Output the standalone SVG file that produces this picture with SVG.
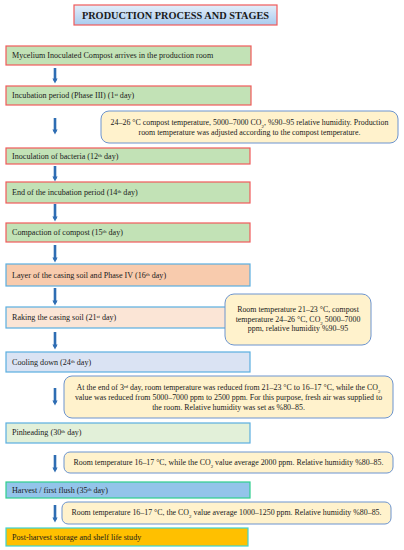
<svg xmlns="http://www.w3.org/2000/svg" width="404" height="550" viewBox="0 0 404 550">
<defs>
<linearGradient id="tg" x1="0" y1="0" x2="0" y2="1">
<stop offset="0" stop-color="#e3eefa"/>
<stop offset="1" stop-color="#a9cbee"/>
</linearGradient>
<marker id="ah" viewBox="0 0 6 6" refX="3" refY="3" markerWidth="2" markerHeight="2" orient="auto" markerUnits="strokeWidth">
<path d="M0,0 L6,3 L0,6 z" fill="#2e6db3"/>
</marker>
</defs>
<style>
text{font-family:"Liberation Serif","Times New Roman",serif;fill:#1a1a1a}
.t{font-size:8.1px}
.n{font-size:7.9px;text-anchor:middle}
.sup{font-size:5px}
.sub{font-size:5px}
.title{font-size:10.3px;font-weight:bold;text-anchor:middle}
.red{stroke:#f05a5a;stroke-width:1.2}
.blu{stroke:#5aaee0;stroke-width:1.2}
.g{fill:#c2e2b6}
.note{fill:#fff2cc;stroke:#6c94cf;stroke-width:1}
.arr{stroke:#2e6db3;stroke-width:2.6;fill:none}
</style>
<rect width="404" height="550" fill="#ffffff"/>
<g id="title">
<rect x="74" y="5" width="203" height="20" fill="url(#tg)" class="red"/>
<text x="175.5" y="19" class="title">PRODUCTION PROCESS AND STAGES</text>
</g>
<g id="n1">
<rect x="6" y="46" width="245" height="19" class="g red"/>
<text x="12" y="58" class="t">Mycelium Inoculated Compost arrives in the production room</text>
</g>
<g id="n2">
<rect x="6" y="86" width="245" height="19" class="g red"/>
<text x="12" y="98" class="t">Incubation period (Phase III) (1<tspan class="sup" baseline-shift="super">st</tspan> day)</text>
</g>
<g id="note1">
<rect x="101" y="111" width="297" height="32" rx="8" class="note"/>
<text x="249.5" y="124.5" class="n">24–26 °C compost temperature, 5000–7000 CO<tspan class="sub" baseline-shift="sub">2</tspan>, %90–95 relative humidity. Production</text>
<text x="249.5" y="134.5" class="n">room temperature was adjusted according to the compost temperature.</text>
</g>
<g id="n3">
<rect x="6" y="148" width="244" height="16" class="g red"/>
<text x="12" y="158.5" class="t">Inoculation of bacteria (12<tspan class="sup" baseline-shift="super">th</tspan> day)</text>
</g>
<g id="n4">
<rect x="6" y="182" width="244" height="21" class="g red"/>
<text x="12" y="195" class="t">End of the incubation period (14<tspan class="sup" baseline-shift="super">th</tspan> day)</text>
</g>
<g id="n5">
<rect x="6" y="223" width="244" height="19" class="g red"/>
<text x="12" y="235" class="t">Compaction of compost (15<tspan class="sup" baseline-shift="super">th</tspan> day)</text>
</g>
<g id="n6">
<rect x="6" y="264" width="244" height="22" fill="#f8cbad" class="blu"/>
<text x="12" y="277.5" class="t">Layer of the casing soil and Phase IV (16<tspan class="sup" baseline-shift="super">th</tspan> day)</text>
</g>
<g id="n7">
<rect x="6" y="307" width="244" height="21" fill="#fbe5d6" class="blu"/>
<text x="12" y="320" class="t">Raking the casing soil (21<tspan class="sup" baseline-shift="super">st</tspan> day)</text>
</g>
<g id="note2">
<rect x="225" y="294" width="146" height="51" rx="9" class="note"/>
<text x="298" y="312" class="n">Room temperature 21–23 °C, compost</text>
<text x="298" y="321.5" class="n">temperature 24–26 °C, CO<tspan class="sub" baseline-shift="sub">2</tspan> 5000–7000</text>
<text x="298" y="331" class="n">ppm, relative humidity %90–95</text>
</g>
<g id="n8">
<rect x="6" y="352" width="244" height="20" fill="#dae3f3" class="blu"/>
<text x="12" y="364.5" class="t">Cooling down (24<tspan class="sup" baseline-shift="super">th</tspan> day)</text>
</g>
<g id="note3">
<rect x="64" y="376" width="329" height="42" rx="8" class="note"/>
<text x="228.5" y="390" class="n">At the end of 3<tspan class="sup" baseline-shift="super">rd</tspan> day, room temperature was reduced from 21–23 °C to 16–17 °C, while the CO<tspan class="sub" baseline-shift="sub">2</tspan></text>
<text x="228.5" y="400" class="n">value was reduced from 5000–7000 ppm to 2500 ppm. For this purpose, fresh air was supplied to</text>
<text x="228.5" y="409.5" class="n">the room. Relative humidity was set as %80–85.</text>
</g>
<g id="n9">
<rect x="6" y="423" width="244" height="20" fill="#e2f0d9" class="blu"/>
<text x="12" y="435" class="t">Pinheading (30<tspan class="sup" baseline-shift="super">th</tspan> day)</text>
</g>
<g id="note4">
<rect x="64" y="452" width="329" height="21" rx="6" class="note"/>
<text x="228.5" y="465" class="n">Room temperature 16–17 °C, while the CO<tspan class="sub" baseline-shift="sub">2</tspan> value average 2000 ppm. Relative humidity %80–85.</text>
</g>
<g id="n10">
<rect x="6" y="482" width="244" height="16" fill="#93c4ea" stroke="#2ecf8e" stroke-width="1.2"/>
<text x="12" y="492.5" class="t">Harvest / first flush (35<tspan class="sup" baseline-shift="super">th</tspan> day)</text>
</g>
<g id="note5">
<rect x="62" y="502" width="329" height="22" rx="6" class="note"/>
<text x="226.5" y="515" class="n">Room temperature 16–17 °C, the CO<tspan class="sub" baseline-shift="sub">2</tspan> value average 1000–1250 ppm. Relative humidity %80–85.</text>
</g>
<g id="n11">
<rect x="6" y="528" width="242" height="18" fill="#ffc000" stroke="#3fd3d0" stroke-width="1.2"/>
<text x="12" y="539.5" class="t">Post-harvest storage and shelf life study</text>
</g>
<g id="connectors">
<line x1="55" y1="68" x2="55" y2="81" class="arr" marker-end="url(#ah)"/>
<line x1="55" y1="118" x2="55" y2="132" class="arr" marker-end="url(#ah)"/>
<line x1="55" y1="166" x2="55" y2="179" class="arr" marker-end="url(#ah)"/>
<line x1="55" y1="204" x2="55" y2="219" class="arr" marker-end="url(#ah)"/>
<line x1="55" y1="245" x2="55" y2="260" class="arr" marker-end="url(#ah)"/>
<line x1="55" y1="288" x2="55" y2="303" class="arr" marker-end="url(#ah)"/>
<line x1="55" y1="332" x2="55" y2="347" class="arr" marker-end="url(#ah)"/>
<line x1="55" y1="388" x2="55" y2="403" class="arr" marker-end="url(#ah)"/>
<line x1="55" y1="455" x2="55" y2="470" class="arr" marker-end="url(#ah)"/>
<line x1="55" y1="505" x2="55" y2="520" class="arr" marker-end="url(#ah)"/>
</g>
</svg>
